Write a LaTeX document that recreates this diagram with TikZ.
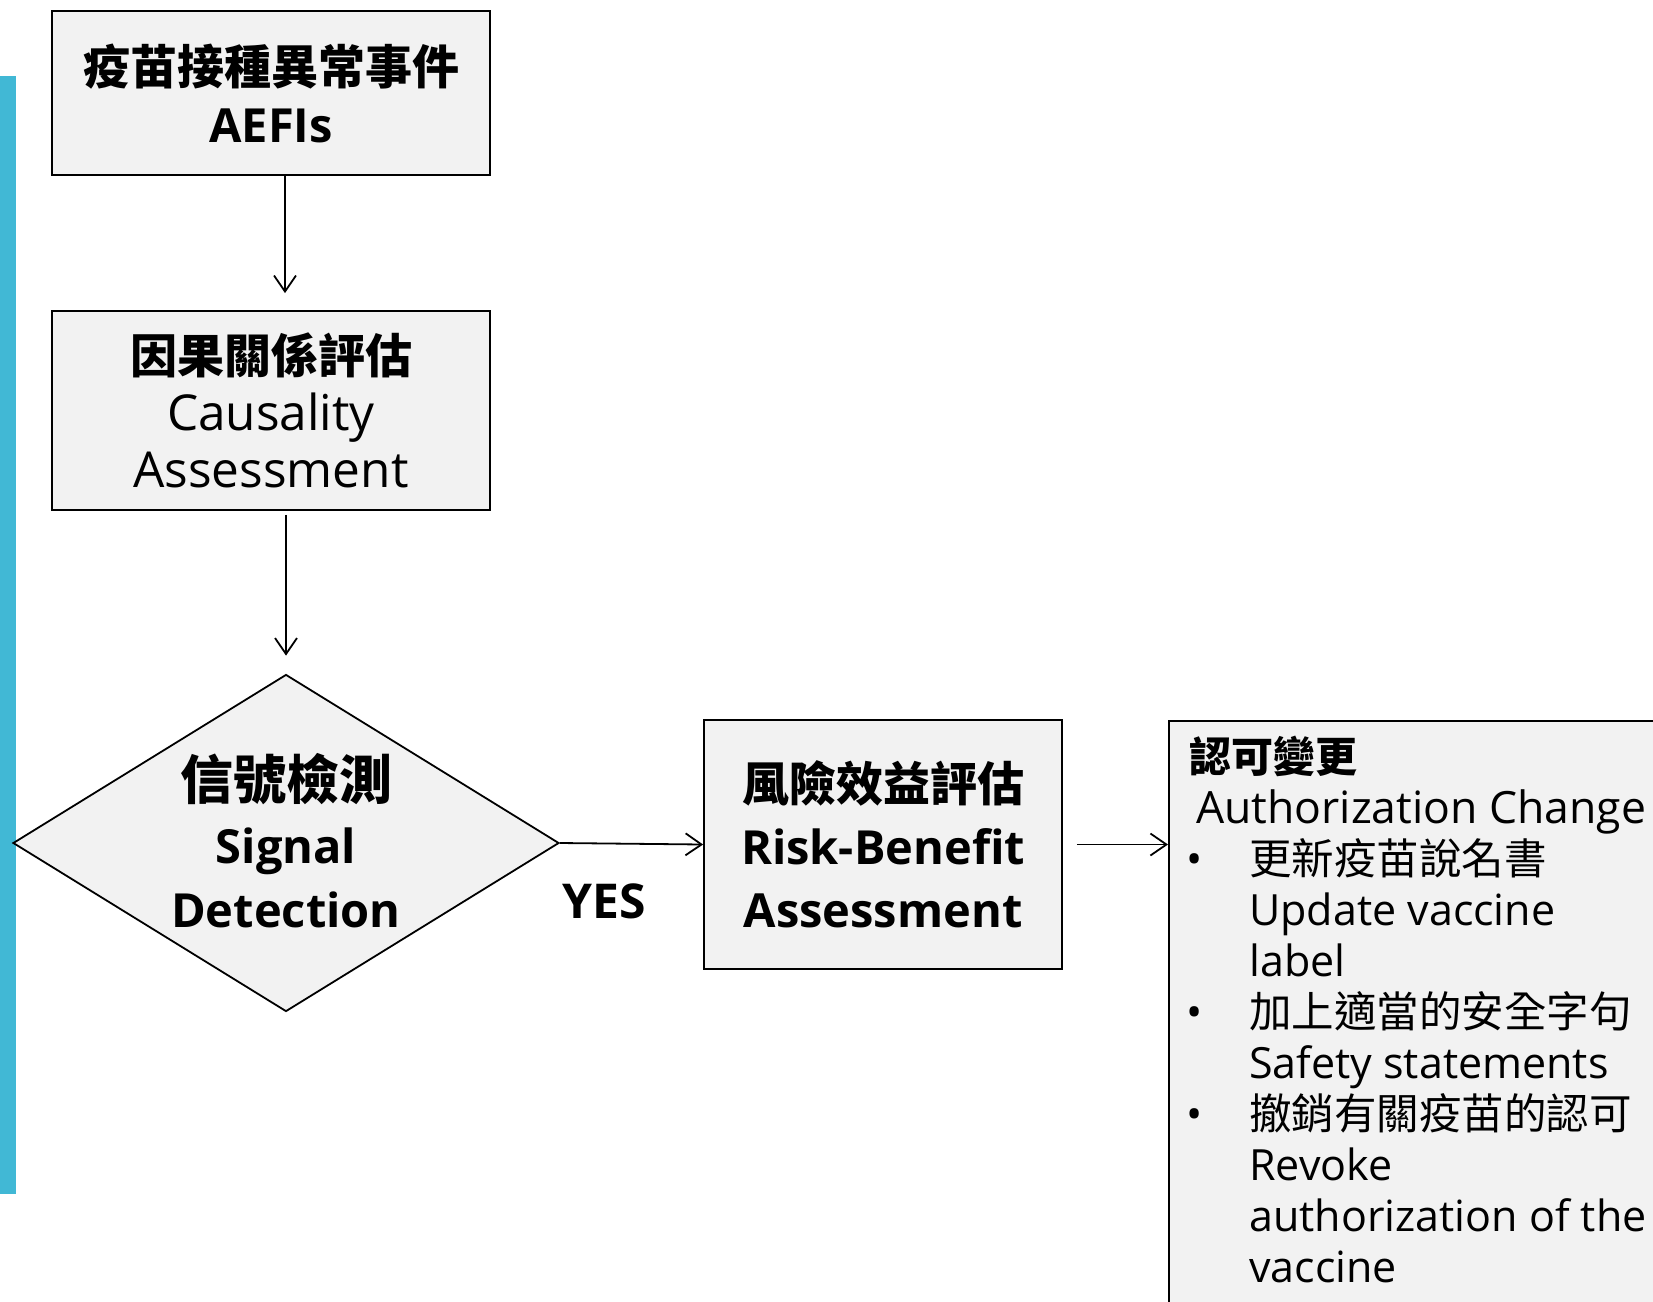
\documentclass[tikz,border=0pt]{standalone}
\usepackage{fontspec}
\setmainfont{Open Sans}
\newfontfamily\cjk{Noto Sans CJK TC}
\usetikzlibrary{shapes.geometric,arrows.meta}
\definecolor{boxfill}{HTML}{F2F2F2}
\definecolor{barblue}{HTML}{41B8D5}
\begin{document}
\begin{tikzpicture}[x=1pt,y=-1pt,
  box/.style={draw=black, line width=1.8pt, fill=boxfill, inner sep=0pt, align=center},
  arr/.style={-{Straight Barb[length=16pt,width=22pt]}, line width=1.8pt},
  item/.style={anchor=base west, inner sep=0pt, font=\fontsize{43}{51}\selectfont},
  cjkitem/.style={anchor=base west, inner sep=0pt, font=\fontsize{42.5}{51}\selectfont\cjk}]
\path[use as bounding box, clip] (0,0) rectangle (1653,1301);
\fill[barblue] (0,76) rectangle (16,1194);
% boxes
\node[box, minimum width=438pt, minimum height=164pt, font=\fontsize{47}{58}\selectfont] (b1) at (271,93)
  {{\cjk\bfseries 疫苗接種異常事件}\\{\bfseries AEFIs}};
\node[box, minimum width=438pt, minimum height=199pt, font=\fontsize{47}{57}\selectfont] (b2) at (271,410.5)
  {{\cjk\bfseries 因果關係評估}\\{\fontsize{49.5}{57}\selectfont Causality}\\{\fontsize{49.5}{57}\selectfont Assessment}};
\node[diamond, draw=black, line width=1.8pt, fill=boxfill, inner sep=0pt,
  minimum width=546pt, minimum height=337pt, shape aspect=1.62] (sd) at (286,843) {};
\node[align=center, inner sep=0pt, font=\fontsize{47}{64}\selectfont\bfseries] (sdt) at ([yshift=2pt]sd.center)
  {{\cjk\fontsize{53}{64}\selectfont 信號檢測}\\Signal\\Detection};
\node[box, minimum width=358pt, minimum height=249pt, font=\fontsize{47}{63}\selectfont\bfseries] (risk) at (883,844.5)
  {{\cjk 風險效益評估}\\Risk-Benefit\\Assessment};
\node[font=\fontsize{48}{56}\selectfont\bfseries, inner sep=0pt] (yes) at (604,901) {YES};
\node[box, anchor=north west, minimum width=540pt, minimum height=640pt] (auth) at (1168,720) {};
% texts of the authorization box
\node[cjkitem, font=\fontsize{42}{51}\selectfont\cjk\bfseries] (t0) at (1189,772) {認可變更};
\node[item, font=\fontsize{44.5}{51}\selectfont] (t1) at (1196,823) {Authorization Change};
\node[item] (d1) at (1186,874) {•};
\node[cjkitem] (t2) at (1249,874) {更新疫苗說名書};
\node[item] (t3) at (1249,925) {Update vaccine};
\node[item] (t4) at (1249,976) {label};
\node[item] (d2) at (1186,1027) {•};
\node[cjkitem] (t5) at (1249,1027) {加上適當的安全字句};
\node[item] (t6) at (1249,1078) {Safety statements};
\node[item] (d3) at (1186,1129) {•};
\node[cjkitem] (t7) at (1249,1129) {撤銷有關疫苗的認可};
\node[item] (t8) at (1249,1180) {Revoke};
\node[item] (t9) at (1249,1231) {authorization of the};
\node[item] (t10) at (1249,1282) {vaccine};
% connectors
\draw[arr] ([xshift=14pt]b1.south) -- ([xshift=14pt,yshift=17pt]b2.north);
\draw[arr] ([xshift=15pt,yshift=-4pt]b2.south) -- ([yshift=18pt]sd.north);
\draw[arr] (sd.east) -- (risk.west);
\draw[arr] ([xshift=14pt]risk.east) -- (risk.east -| auth.west);
\end{tikzpicture}
\end{document}
